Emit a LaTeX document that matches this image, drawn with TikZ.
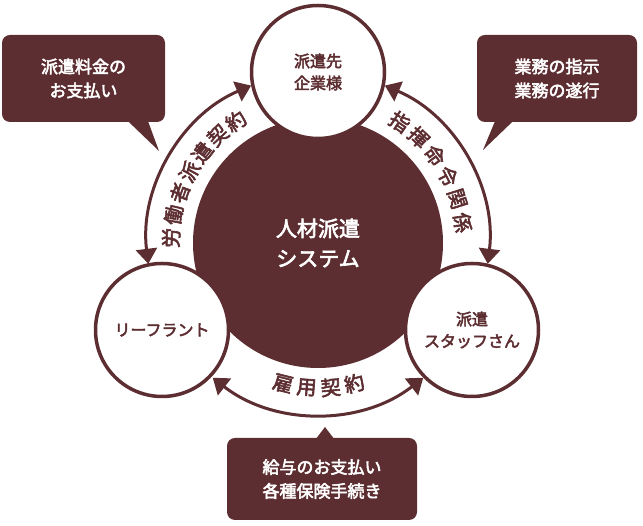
\documentclass[tikz,border=0pt]{standalone}
\usepackage{fontspec}
\setmainfont{Noto Sans CJK JP}
\newfontface\jpbold{Noto Sans CJK JP}[FakeBold=3]
\usetikzlibrary{arrows.meta, positioning, calc}
\definecolor{maroon}{RGB}{93,46,49}

\begin{document}
\begin{tikzpicture}[x=1pt, y=1pt,
        core/.style={circle, fill=maroon, minimum size=250pt, inner sep=0pt, align=center, text=white, font=\jpbold\fontsize{21}{30}\selectfont},
        party/.style={circle, draw=maroon, fill=white, line width=3.5pt, minimum size=133pt, inner sep=0pt, align=center, text=maroon, font=\jpbold\fontsize{16}{22}\selectfont},
        callout/.style={rectangle, fill=maroon, rounded corners=8pt, minimum width=163pt, minimum height=87pt, align=center, text=white, font=\jpbold\fontsize{17}{24}\selectfont},
        arclabel/.style={text=maroon, inner sep=0pt, font=\jpbold\fontsize{20}{20}\selectfont},
        arrow/.style={{Triangle[length=15pt,width=21pt]}-{Triangle[length=15pt,width=21pt]}, line width=3pt, maroon}
    ]
    \useasboundingbox (0,0) rectangle (643,526);

    \coordinate (c) at (318,283);
    \node[core] (sys) at (c) {人材派遣\\システム};

    \node[party] (client) at (318,454) {派遣先\\企業様};
    \node[party] (leaf) at (162,196) {リーフラント};
    \node[party] (staff) at (472,196) {派遣\\スタッフさん};

    % contract arcs
    \draw[arrow] ([shift={(113:171)}]c) arc[start angle=113, end angle=187, radius=171pt];
    \draw[arrow] ([shift={(67:171)}]c) arc[start angle=67, end angle=-7, radius=171pt];
    \draw[arrow] ([shift={(232:171)}]c) arc[start angle=232, end angle=308, radius=171pt];

    % arc labels
    \foreach \ch [count=\i from 0, evaluate=\i as \a using 178-9*\i] in {労,働,者,派,遣,契,約}
        \node[arclabel, rotate=\a-90] at ($(c)+(\a:147)$) {\ch};
    \foreach \ch [count=\i from 0, evaluate=\i as \a using 56-9.6*\i] in {指,揮,命,令,関,係}
        \node[arclabel, rotate=\a-90] at ($(c)+(\a:146)$) {\ch};
    \foreach \ch [count=\i from 0, evaluate=\i as \a using 256+9.5*\i] in {雇,用,契,約}
        \node[arclabel, rotate=\a+90] at ($(c)+(\a:145)$) {\ch};

    % callouts
    \node[callout] (fee) at (83.5,447.5) {派遣料金の\\お支払い};
    \node[callout, minimum width=160pt] (order) at (557,447.5) {業務の指示\\業務の遂行};
    \node[callout, minimum width=190pt, minimum height=82pt] (pay) at (322,47) {給与のお支払い\\各種保険手続き};

    \coordinate (feetip) at (159,375);
    \coordinate (ordertip) at (483,376);
    \coordinate (paytip) at (325,99);
    \fill[maroon] ([xshift=44.5pt, yshift=1pt]fee.south) -- (feetip) -- ([xshift=64.5pt, yshift=1pt]fee.south) -- cycle;
    \fill[maroon] ([xshift=-62pt, yshift=1pt]order.south) -- (ordertip) -- ([xshift=-44pt, yshift=1pt]order.south) -- cycle;
    \fill[maroon] ([xshift=-6pt, yshift=-1pt]pay.north) -- (paytip) -- ([xshift=12pt, yshift=-1pt]pay.north) -- cycle;

\end{tikzpicture}
\end{document}
